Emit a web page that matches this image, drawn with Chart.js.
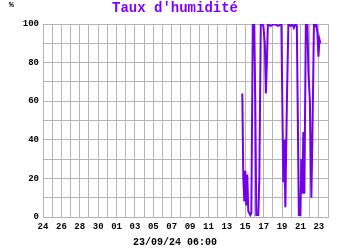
<!DOCTYPE html>
<html lang="fr">
<head>
  <meta charset="UTF-8" />
  <title>Taux d'humidité</title>
  <script src="https://cdn.jsdelivr.net/npm/chart.js@4.4.1/dist/chart.umd.min.js"></script>
  <style>
    * { box-sizing: border-box; margin: 0; padding: 0; }
    body { background: #ffffff; width: 350px; height: 250px; overflow: hidden; }
    .wrap { position: relative; width: 350px; height: 250px; }
    .txt { position: absolute; font-family: "Liberation Mono", monospace; font-weight: bold; color: #000; white-space: nowrap; }
    .unit { left: 9px; top: 0px; font-size: 8px; }
    .title { left: 0; width: 350px; top: 0px; text-align: center; font-size: 14px; line-height: 16px; color: #8000ff; }
    .date { left: 0; width: 350px; top: 237px; text-align: center; font-size: 10px; line-height: 12px; }
  </style>
</head>
<body>
  <div class="wrap">
    <canvas id="humChart" width="350" height="250"></canvas>
    <div class="txt unit">%</div>
    <div class="txt title">Taux d'humidité</div>
    <div class="txt date" id="dateLabel"></div>
  </div>

  <script>
    // jours depuis le 24/08 00:00 (un trait de grille par jour)
    const dayLabels = ['24', '26', '28', '30', '01', '03', '05', '07', '09', '11', '13', '15', '17', '19', '21', '23'];
    const yTicks = [0, 20, 40, 60, 80, 100];
    const dateLabel = '23/09/24 06:00';

    const times = [
      21.68, 21.79, 21.90, 22.00, 22.11, 22.22, 22.33, 22.55, 22.66, 22.82,
      22.98, 23.09, 23.20, 23.42, 23.53, 23.69, 23.86, 23.97, 24.13, 24.24,
      24.35, 24.46, 24.73, 25.16, 25.60, 25.93, 26.03, 26.14, 26.25, 26.36,
      26.53, 26.69, 26.91, 27.12, 27.29, 27.45, 27.61, 27.72, 27.83, 28.00,
      28.10, 28.21, 28.32, 28.43, 28.59, 28.76, 28.87, 29.03, 29.19, 29.30,
      29.47, 29.63, 29.74, 29.85, 29.96, 30.07, 30.17
    ];
    const humidity = [
      64, 20, 8, 24, 6, 22, 3, 1, 2, 100,
      100, 60, 1, 1, 20, 100, 100, 99, 90, 64,
      80, 100, 99, 100, 99, 100, 60, 18, 40, 5,
      60, 100, 99, 100, 98, 100, 99, 50, 1, 1,
      30, 12, 44, 12, 100, 100, 75, 60, 10, 40,
      100, 99, 100, 95, 83, 92, 90
    ];

    document.getElementById('dateLabel').textContent = dateLabel;

    const FONT = '"Liberation Mono", "DejaVu Sans Mono", monospace';
    const GRID = '#b4b4b4';

    new Chart(document.getElementById('humChart'), {
      type: 'line',
      data: {
        datasets: [{
          data: times.map((t, i) => ({ x: t, y: humidity[i] })),
          borderColor: '#7300e6',
          borderWidth: 2,
          pointRadius: 0,
          tension: 0,
          fill: false
        }]
      },
      options: {
        responsive: false,
        animation: false,
        layout: { padding: { left: 0, right: 22, top: 24, bottom: 0 } },
        plugins: {
          legend: { display: false },
          tooltip: { enabled: false },
          title: { display: false }
        },
        scales: {
          x: {
            type: 'linear',
            min: 0,
            max: 31,
            afterFit: s => { s.height = 33; },
            grid: { color: GRID, drawTicks: false, lineWidth: 1 },
            border: { color: GRID },
            ticks: {
              stepSize: 1,
              autoSkip: false,
              maxRotation: 0,
              padding: 4,
              color: '#000',
              font: { family: FONT, size: 9, weight: 'bold' },
              callback: v => (v % 2 === 0 && dayLabels[v / 2] !== undefined) ? dayLabels[v / 2] : ''
            }
          },
          y: {
            min: 0,
            max: 100,
            afterFit: s => { s.width = 43; },
            grid: { color: GRID, drawTicks: false, lineWidth: 1 },
            border: { color: GRID },
            ticks: {
              stepSize: 10,
              padding: 4,
              color: '#000',
              font: { family: FONT, size: 9, weight: 'bold' },
              callback: v => yTicks.includes(v) ? v : ''
            }
          }
        }
      }
    });
  </script>
</body>
</html>
